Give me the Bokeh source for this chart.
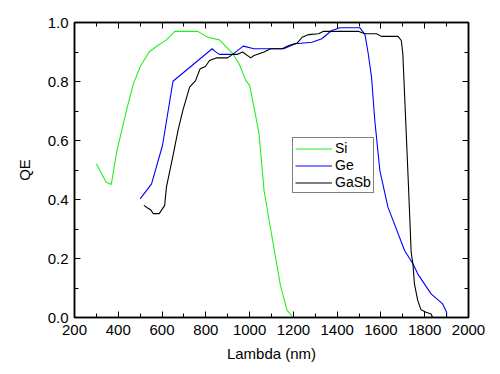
from bokeh.plotting import figure
from bokeh.models import (Range1d, LinearAxis, FixedTicker, PrintfTickFormatter,
                          Legend, LegendItem, CustomLabelingPolicy)
from bokeh.embed import file_html
from bokeh.resources import INLINE

# ---- data ----
si_x = [300, 344, 368, 394, 416, 440, 469, 500, 540, 580, 620, 658, 763, 809, 862,
        918, 952, 983, 1000, 1020, 1043, 1066, 1096, 1141, 1171, 1200]
si_y = [0.521, 0.459, 0.451, 0.566, 0.634, 0.71, 0.792, 0.85, 0.899, 0.922, 0.941,
        0.970, 0.970, 0.950, 0.941, 0.899, 0.860, 0.803, 0.787, 0.713, 0.623, 0.43,
        0.30, 0.108, 0.024, 0.0]

ge_x = [500, 552, 602, 650, 829, 842, 862, 922, 971, 1020, 1156, 1209, 1285, 1330,
        1375, 1413, 1504, 1527, 1542, 1557, 1572, 1595, 1632, 1708, 1746, 1768,
        1829, 1882, 1900, 1900]
ge_y = [0.402, 0.453, 0.583, 0.801, 0.911, 0.902, 0.892, 0.892, 0.920, 0.911, 0.911,
        0.928, 0.933, 0.945, 0.973, 0.982, 0.982, 0.959, 0.894, 0.815, 0.668, 0.498,
        0.374, 0.227, 0.182, 0.148, 0.080, 0.046, 0.018, 0.0]

gasb_x = [517, 532, 548, 560, 587, 612, 620, 650, 673, 695, 726, 753, 774, 798, 817,
          847, 899, 922, 945, 968, 1005, 1020, 1066, 1096, 1149, 1179, 1217, 1240,
          1270, 1315, 1338, 1496, 1527, 1580, 1602, 1678, 1693, 1700, 1715, 1726,
          1738, 1746, 1753, 1768, 1783, 1806, 1829, 1836]
gasb_y = [0.38, 0.372, 0.365, 0.352, 0.352, 0.38, 0.442, 0.549, 0.634, 0.702, 0.781,
          0.803, 0.843, 0.851, 0.871, 0.880, 0.880, 0.892, 0.892, 0.900, 0.880,
          0.888, 0.900, 0.911, 0.911, 0.922, 0.930, 0.950, 0.959, 0.962, 0.970,
          0.970, 0.962, 0.962, 0.953, 0.953, 0.939, 0.894, 0.634, 0.442, 0.222,
          0.182, 0.114, 0.058, 0.026, 0.018, 0.012, 0.0]

x_ticks = [200, 400, 600, 800, 1000, 1200, 1400, 1600, 1800, 2000]
x_minor = [300, 500, 700, 900, 1100, 1300, 1500, 1700, 1900]
y_ticks = [0.0, 0.2, 0.4, 0.6, 0.8, 1.0]
y_minor = [0.1, 0.3, 0.5, 0.7, 0.9]

FONT = "Liberation Sans"

p = figure(width=492, height=366, output_backend="svg", toolbar_location=None,
           x_range=Range1d(200, 2000), y_range=Range1d(0, 1.0),
           min_border_left=74, min_border_right=21, min_border_top=22,
           min_border_bottom=49, x_axis_location=None, y_axis_location=None)
p.grid.visible = False
p.outline_line_color = "black"
p.outline_line_width = 1.5
p.background_fill_color = "white"
p.border_fill_color = "white"

xt = FixedTicker(ticks=x_ticks, minor_ticks=x_minor)
yt = FixedTicker(ticks=y_ticks, minor_ticks=y_minor)

no_labels = CustomLabelingPolicy(
    code="for (const i of Array.from(indices)) { indices.unset(i) }\nreturn indices")


def style(ax, labels=True):
    ax.axis_line_color = "black"
    ax.axis_line_width = 1.5
    ax.major_tick_in = 6
    ax.major_tick_out = 0
    ax.minor_tick_in = 4
    ax.minor_tick_out = 0
    ax.major_tick_line_color = "black"
    ax.minor_tick_line_color = "black"
    ax.major_tick_line_width = 1
    ax.minor_tick_line_width = 1
    ax.major_label_text_font = FONT
    ax.major_label_text_color = "black"
    ax.axis_label_text_font = FONT
    ax.axis_label_text_font_style = "normal"
    ax.axis_label_text_color = "black"
    ax.axis_label_text_font_size = "15px"
    ax.major_label_text_font_size = "15px"
    if not labels:
        ax.major_label_policy = no_labels
        ax.major_label_standoff = 0


xb = LinearAxis(ticker=xt, formatter=PrintfTickFormatter(format="%d"),
                axis_label="Lambda (nm)")
style(xb)
xb.major_label_standoff = 7
xb.axis_label_standoff = 7
p.add_layout(xb, "below")

yl = LinearAxis(ticker=yt, formatter=PrintfTickFormatter(format="%.1f"),
                axis_label="QE")
style(yl)
yl.major_label_standoff = 6
yl.axis_label_standoff = 12
p.add_layout(yl, "left")

xa = LinearAxis(ticker=xt)
style(xa, labels=False)
p.add_layout(xa, "above")
yr = LinearAxis(ticker=yt)
style(yr, labels=False)
p.add_layout(yr, "right")

r_si = p.line(si_x, si_y, line_color="#22ee22", line_width=1.1)
r_ge = p.line(ge_x, ge_y, line_color="#0000ff", line_width=1.1)
r_gasb = p.line(gasb_x, gasb_y, line_color="black", line_width=1.1)

legend = Legend(items=[LegendItem(label="Si", renderers=[r_si]),
                       LegendItem(label="Ge", renderers=[r_ge]),
                       LegendItem(label="GaSb", renderers=[r_gasb])],
                location=(218, 124), border_line_color="black", border_line_width=1,
                background_fill_color="white", background_fill_alpha=1,
                padding=2, spacing=1, margin=0, label_height=15, glyph_height=15,
                glyph_width=37, label_standoff=3, label_text_font=FONT,
                label_text_font_size="14px", label_text_color="black")
p.add_layout(legend, "center")

open("out.html", "w").write(file_html(p, INLINE))
